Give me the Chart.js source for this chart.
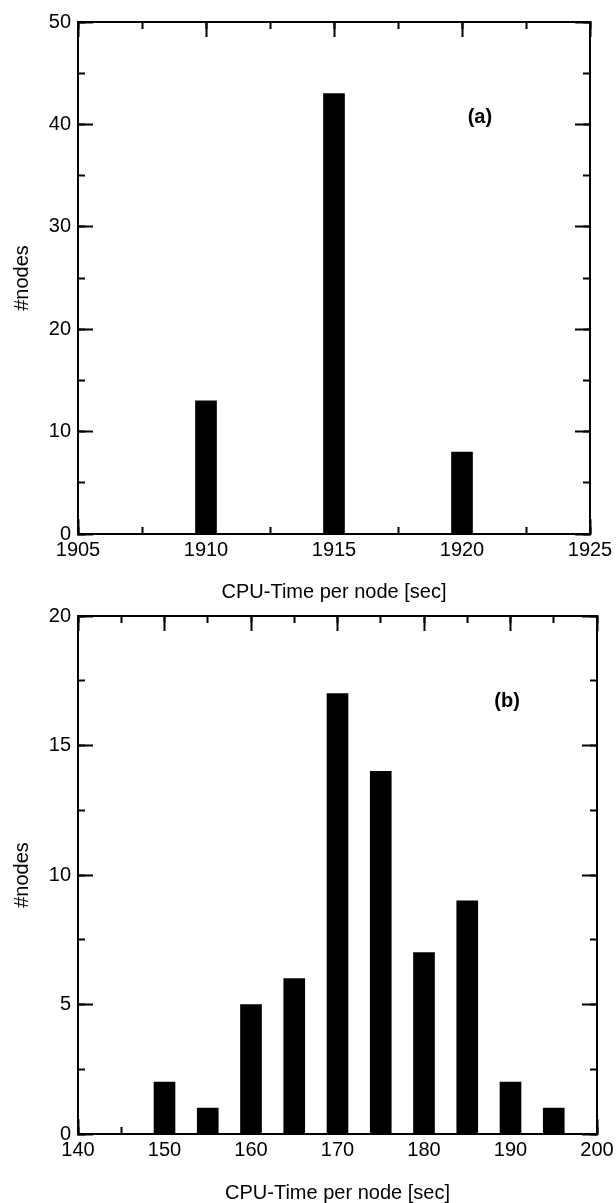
<!DOCTYPE html>
<html>
<head>
<meta charset="utf-8">
<title>CPU-Time per node</title>
<script src="https://cdn.jsdelivr.net/npm/chart.js@4.4.0/dist/chart.umd.min.js"></script>
<style>
  html, body { margin: 0; padding: 0; background: #fff; overflow: hidden; }
  body { width: 616px; height: 1203px; position: relative; }
  canvas { position: absolute; left: 0; }
  #chart-a { top: 0; }
  #chart-b { top: 606px; }
</style>
</head>
<body>
<canvas id="chart-a" width="616" height="606"></canvas>
<canvas id="chart-b" width="616" height="597"></canvas>
<script>
// panel (a)
const timesA = [1910, 1915, 1920];
const nodesA = [13, 43, 8];
const xTicksA = [1905, 1910, 1915, 1920, 1925];
const yTicksA = [0, 10, 20, 30, 40, 50];

// panel (b)
const timesB = [150, 155, 160, 165, 170, 175, 180, 185, 190, 195];
const nodesB = [2, 1, 5, 6, 17, 14, 7, 9, 2, 1];
const xTicksB = [140, 150, 160, 170, 180, 190, 200];
const yTicksB = [0, 5, 10, 15, 20];

const X_TITLE = 'CPU-Time per node [sec]';
const Y_TITLE = '#nodes';

const INK = '#000';
const LABEL_FONT = { family: '"Liberation Sans", Arial, Helvetica, sans-serif', size: 20 };
const MAJOR_TICK = 15;
const MINOR_TICK = 7;

// writes "(a)" / "(b)" at a spot given in data units
const panelTag = {
  id: 'panelTag',
  afterDatasetsDraw(chart, args, opts) {
    const { ctx, scales } = chart;
    ctx.save();
    ctx.font = 'bold 20px "Liberation Sans", Arial, sans-serif';
    ctx.fillStyle = INK;
    ctx.textAlign = 'center';
    ctx.textBaseline = 'middle';
    ctx.fillText(opts.text, scales.x.getPixelForValue(opts.x), scales.y.getPixelForValue(opts.y));
    ctx.restore();
  },
};

// one axis side; minor axes only carry the short inward ticks
function makeAxis(ticks, o) {
  const step = ticks[1] - ticks[0];
  const horizontal = o.position === 'top' || o.position === 'bottom';
  return {
    type: 'linear',
    display: true,
    position: o.position,
    min: ticks[0],
    max: ticks[ticks.length - 1],
    offset: false,
    weight: o.labels ? 1 : 0,
    grid: {
      drawOnChartArea: false,
      offset: false,
      tickLength: -(o.minor ? MINOR_TICK : MAJOR_TICK),
      tickWidth: 2,
      tickColor: INK,
    },
    border: { display: !!o.border, color: INK, width: 2 },
    ticks: {
      display: !!o.labels,
      stepSize: o.minor ? step / 2 : step,
      padding: horizontal ? 19 : 22,
      color: INK,
      font: LABEL_FONT,
      maxRotation: 0,
      autoSkip: false,
      callback: (v) => String(v),
    },
    title: o.title
      ? { display: true, text: o.title, color: INK, font: { ...LABEL_FONT, lineHeight: 1 }, padding: o.titlePadding }
      : { display: false },
    afterFit(scale) {
      if (horizontal) scale.height = o.size || 0;
      else scale.width = o.size || 0;
      // end labels may hang past the frame; don't let them shrink the plot
      scale.paddingLeft = scale.paddingRight = 0;
      scale.paddingTop = scale.paddingBottom = 0;
    },
  };
}

function renderPanel(canvasId, times, nodes, xTicks, yTicks, frame, tag) {
  const canvas = document.getElementById(canvasId);
  return new Chart(canvas, {
    type: 'bar',
    data: {
      datasets: [{
        data: times.map((t, i) => ({ x: t, y: nodes[i] })),
        backgroundColor: INK,
        borderWidth: 0,
        barThickness: 21,
      }],
    },
    options: {
      responsive: false,
      animation: false,
      events: [],
      layout: { padding: frame.padding },
      plugins: {
        legend: { display: false },
        tooltip: { enabled: false },
        panelTag: tag,
      },
      scales: {
        x: makeAxis(xTicks, { position: 'bottom', labels: true, border: true, size: frame.xSize, title: X_TITLE, titlePadding: { top: 0, bottom: frame.xTitlePad } }),
        xMinor: makeAxis(xTicks, { position: 'bottom', minor: true }),
        xTop: makeAxis(xTicks, { position: 'top', border: true }),
        xTopMinor: makeAxis(xTicks, { position: 'top', minor: true }),
        y: makeAxis(yTicks, { position: 'left', labels: true, border: true, size: 78, title: Y_TITLE, titlePadding: { top: 12, bottom: 0 } }),
        yMinor: makeAxis(yTicks, { position: 'left', minor: true }),
        yRight: makeAxis(yTicks, { position: 'right', border: true }),
        yRightMinor: makeAxis(yTicks, { position: 'right', minor: true }),
      },
    },
    plugins: [panelTag],
  });
}

renderPanel('chart-a', timesA, nodesA, xTicksA, yTicksA,
  { padding: { top: 22, right: 26, bottom: 0, left: 0 }, xSize: 72, xTitlePad: 4 },
  { text: '(a)', x: 1920.7, y: 40.7 });

renderPanel('chart-b', timesB, nodesB, xTicksB, yTicksB,
  { padding: { top: 10, right: 19, bottom: 0, left: 0 }, xSize: 69, xTitlePad: 0 },
  { text: '(b)', x: 189.6, y: 16.7 });
</script>
</body>
</html>
